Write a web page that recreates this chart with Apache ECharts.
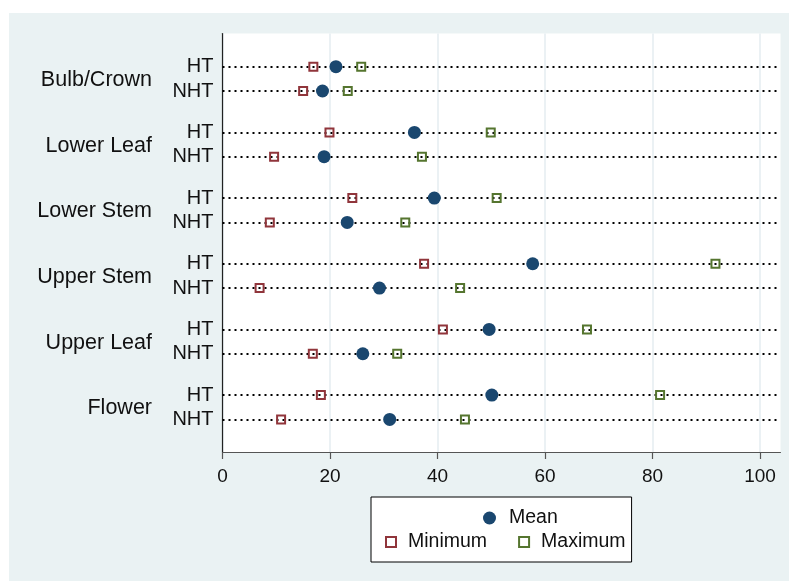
<!DOCTYPE html>
<html>
<head>
<meta charset="utf-8">
<script src="https://cdn.jsdelivr.net/npm/echarts@6/dist/echarts.min.js"></script>
<style>html,body{margin:0;padding:0;background:#fff}#c{width:789px;height:581px}</style>
</head>
<body>
<div id="c"></div>
<script>
// ---- data ----
var groups = ['Bulb/Crown', 'Lower Leaf', 'Lower Stem', 'Upper Stem', 'Upper Leaf', 'Flower'];
var rowNames = ['HT', 'NHT'];
// values per group: [HT, NHT]
var meanVals = [[21.1, 18.6], [35.7, 18.9], [39.4, 23.2], [57.7, 29.2], [49.6, 26.1], [50.1, 31.1]];
var minVals  = [[16.9, 15.0], [19.9, 9.6], [24.15, 8.8], [37.5, 6.9], [41.0, 16.8], [18.3, 10.9]];
var maxVals  = [[25.8, 23.3], [49.9, 37.1], [51.0, 34.0], [91.7, 44.2], [67.8, 32.5], [81.4, 45.1]];
var xTicks = [0, 20, 40, 60, 80, 100];

// ---- layout helpers ----
var groupStep = 2.7;
function rowPos(g, r) { return g * groupStep + r; }
var rowPositions = [], rowLabelMap = {}, groupPositions = [], groupLabelMap = {};
groups.forEach(function (name, g) {
  rowNames.forEach(function (rn, r) {
    var p = +rowPos(g, r).toFixed(3);
    rowPositions.push(p);
    rowLabelMap[p] = rn;
  });
  var gp = +(g * groupStep + 0.55).toFixed(3);
  groupPositions.push(gp);
  groupLabelMap[gp] = name;
});
function build(vals) {
  var out = [];
  vals.forEach(function (pair, g) {
    pair.forEach(function (v, r) { out.push([v, +rowPos(g, r).toFixed(3)]); });
  });
  return out;
}

var FONT = 'Liberation Sans, Arial, sans-serif';
var navy = '#1a476f', maroon = '#90353b', green = '#55752f';
var yMin = -1.365, yMax = 15.84;

var chart = echarts.init(document.getElementById('c'), null, { renderer: 'canvas' });
chart.setOption({
  backgroundColor: '#ffffff',
  animation: false,
  graphic: [{
    type: 'rect', z: -10, silent: true,
    shape: { x: 9, y: 13, width: 780, height: 568 },
    style: { fill: '#eaf2f3' }
  }],
  grid: {
    left: 222.5, right: 8.5, top: 33.5, bottom: 129,
    show: true, backgroundColor: '#ffffff', borderWidth: 0
  },
  xAxis: {
    type: 'value', min: 0, max: 103.8, interval: 20, position: 'bottom',
    axisLine: { show: true, onZero: false, lineStyle: { color: '#555', width: 1.2 } },
    axisTick: { show: true, length: 7, lineStyle: { color: '#555', width: 1.2 }, customValues: xTicks },
    axisLabel: {
      margin: 15, color: '#111', fontFamily: FONT, fontSize: 19,
      customValues: xTicks,
      formatter: function (v) { return String(v); }
    },
    splitLine: { show: true, lineStyle: { color: '#e6eef2', width: 1.6 } }
  },
  yAxis: [{
    type: 'value', inverse: true, min: yMin, max: yMax,
    axisLine: { show: true, onZero: false, lineStyle: { color: '#222', width: 1.2 } },
    axisTick: { show: false },
    splitLine: { show: false },
    axisLabel: {
      margin: 9, color: '#111', fontFamily: FONT, fontSize: 20,
      lineHeight: 20, padding: [4, 0, 0, 0],
      customValues: rowPositions,
      formatter: function (v) { return rowLabelMap[+(+v).toFixed(3)] || ''; }
    }
  }, {
    type: 'value', inverse: true, min: yMin, max: yMax, position: 'left',
    axisLine: { show: false }, axisTick: { show: false }, splitLine: { show: false },
    axisLabel: {
      margin: 70.5, color: '#111', fontFamily: FONT, fontSize: 21.5,
      lineHeight: 22, padding: [4, 0, 0, 0],
      customValues: groupPositions,
      formatter: function (v) { return groupLabelMap[+(+v).toFixed(3)] || ''; }
    }
  }],
  legend: [{
    data: ['Mean'], orient: 'horizontal', left: 483, top: 508, padding: 0,
    itemWidth: 13, itemHeight: 13,
    textStyle: { fontFamily: FONT, fontSize: 19.5, color: '#111', lineHeight: 20, padding: [0, 0, 0, 8] },
    z: 5
  }, {
    data: ['Minimum', 'Maximum'], orient: 'horizontal', left: 371, top: 497,
    padding: [35, 6, 10, 14], itemGap: 31,
    itemWidth: 10, itemHeight: 10,
    backgroundColor: '#ffffff', borderColor: '#000', borderWidth: 1, borderRadius: 0,
    textStyle: { fontFamily: FONT, fontSize: 19.5, color: '#111', lineHeight: 20, padding: [0, 0, 0, 7] },
    z: 4
  }],
  series: [{
    name: 'Minimum', type: 'scatter', yAxisIndex: 0,
    symbol: 'rect', symbolSize: 8,
    itemStyle: { color: 'rgba(255,255,255,0)', borderColor: maroon, borderWidth: 2, opacity: 1 },
    data: build(minVals), z: 3,
    markLine: {
      silent: true, symbol: ['none', 'none'], label: { show: false },
      lineStyle: { color: '#000', width: 2, type: [2, 4], cap: 'butt', opacity: 1 },
      data: rowPositions.map(function (p) { return { yAxis: p }; }),
      z: 1
    }
  }, {
    name: 'Maximum', type: 'scatter', yAxisIndex: 0,
    symbol: 'rect', symbolSize: 8,
    itemStyle: { color: 'rgba(255,255,255,0)', borderColor: green, borderWidth: 2, opacity: 1 },
    data: build(maxVals), z: 3
  }, {
    name: 'Mean', type: 'scatter', yAxisIndex: 0,
    symbol: 'circle', symbolSize: 13,
    itemStyle: { color: navy, opacity: 1 },
    data: build(meanVals), z: 4
  }]
});
</script>
</body>
</html>
